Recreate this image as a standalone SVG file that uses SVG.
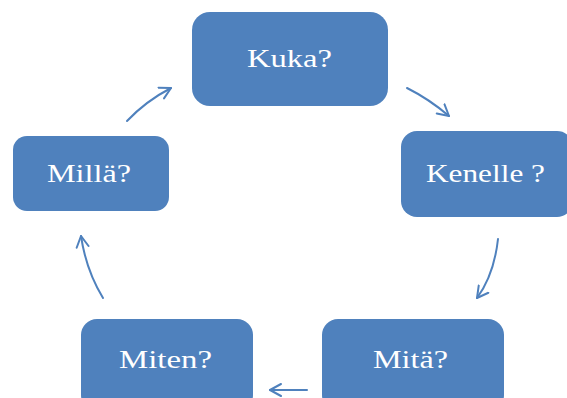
<svg xmlns="http://www.w3.org/2000/svg" width="567" height="398" viewBox="0 0 567 398">
  <style>
    .box { fill: #4f81bd; }
    .label { fill: #ffffff; font-family: "Liberation Serif", "Times New Roman", serif; font-size: 26px; text-anchor: middle; }
    .conn { fill: none; stroke: #4f81bd; stroke-width: 2; stroke-linecap: round; }
  </style>
  <defs>
    <marker id="open" markerUnits="userSpaceOnUse" markerWidth="16" markerHeight="16" refX="12" refY="7" orient="auto" viewBox="0 0 16 14">
      <path d="M1,1 L12,7 L1,13" fill="none" stroke="#4f81bd" stroke-width="2" stroke-linecap="round" stroke-linejoin="round"/>
    </marker>
  </defs>
  <rect width="567" height="398" fill="#ffffff"/>

  <g id="kuka">
    <rect class="box" x="192" y="12" width="196" height="94" rx="18"/>
    <text class="label" x="289.5" y="67" textLength="85" lengthAdjust="spacingAndGlyphs">Kuka?</text>
  </g>
  <g id="kenelle">
    <rect class="box" x="401" y="131" width="172" height="86" rx="16"/>
    <text class="label" x="485.5" y="182" textLength="119" lengthAdjust="spacingAndGlyphs">Kenelle ?</text>
  </g>
  <g id="mita">
    <rect class="box" x="322" y="319" width="182" height="92" rx="16"/>
    <text class="label" x="410.5" y="368" textLength="75" lengthAdjust="spacingAndGlyphs">Mitä?</text>
  </g>
  <g id="miten">
    <rect class="box" x="81" y="319" width="172" height="92" rx="16"/>
    <text class="label" x="165.5" y="368" textLength="93" lengthAdjust="spacingAndGlyphs">Miten?</text>
  </g>
  <g id="milla">
    <rect class="box" x="13" y="136" width="156" height="75" rx="14"/>
    <text class="label" x="89" y="182" textLength="84" lengthAdjust="spacingAndGlyphs">Millä?</text>
  </g>

  <g id="connectors">
    <path class="conn" d="M407,88 Q429,99 449,116" marker-end="url(#open)"/>
    <path class="conn" d="M498,239 Q494,275 477,298" marker-end="url(#open)"/>
    <path class="conn" d="M307,390 L270,390" marker-end="url(#open)"/>
    <path class="conn" d="M103,298 Q86,270 81,236" marker-end="url(#open)"/>
    <path class="conn" d="M127,121 Q146,101 171,88" marker-end="url(#open)"/>
  </g>
</svg>
